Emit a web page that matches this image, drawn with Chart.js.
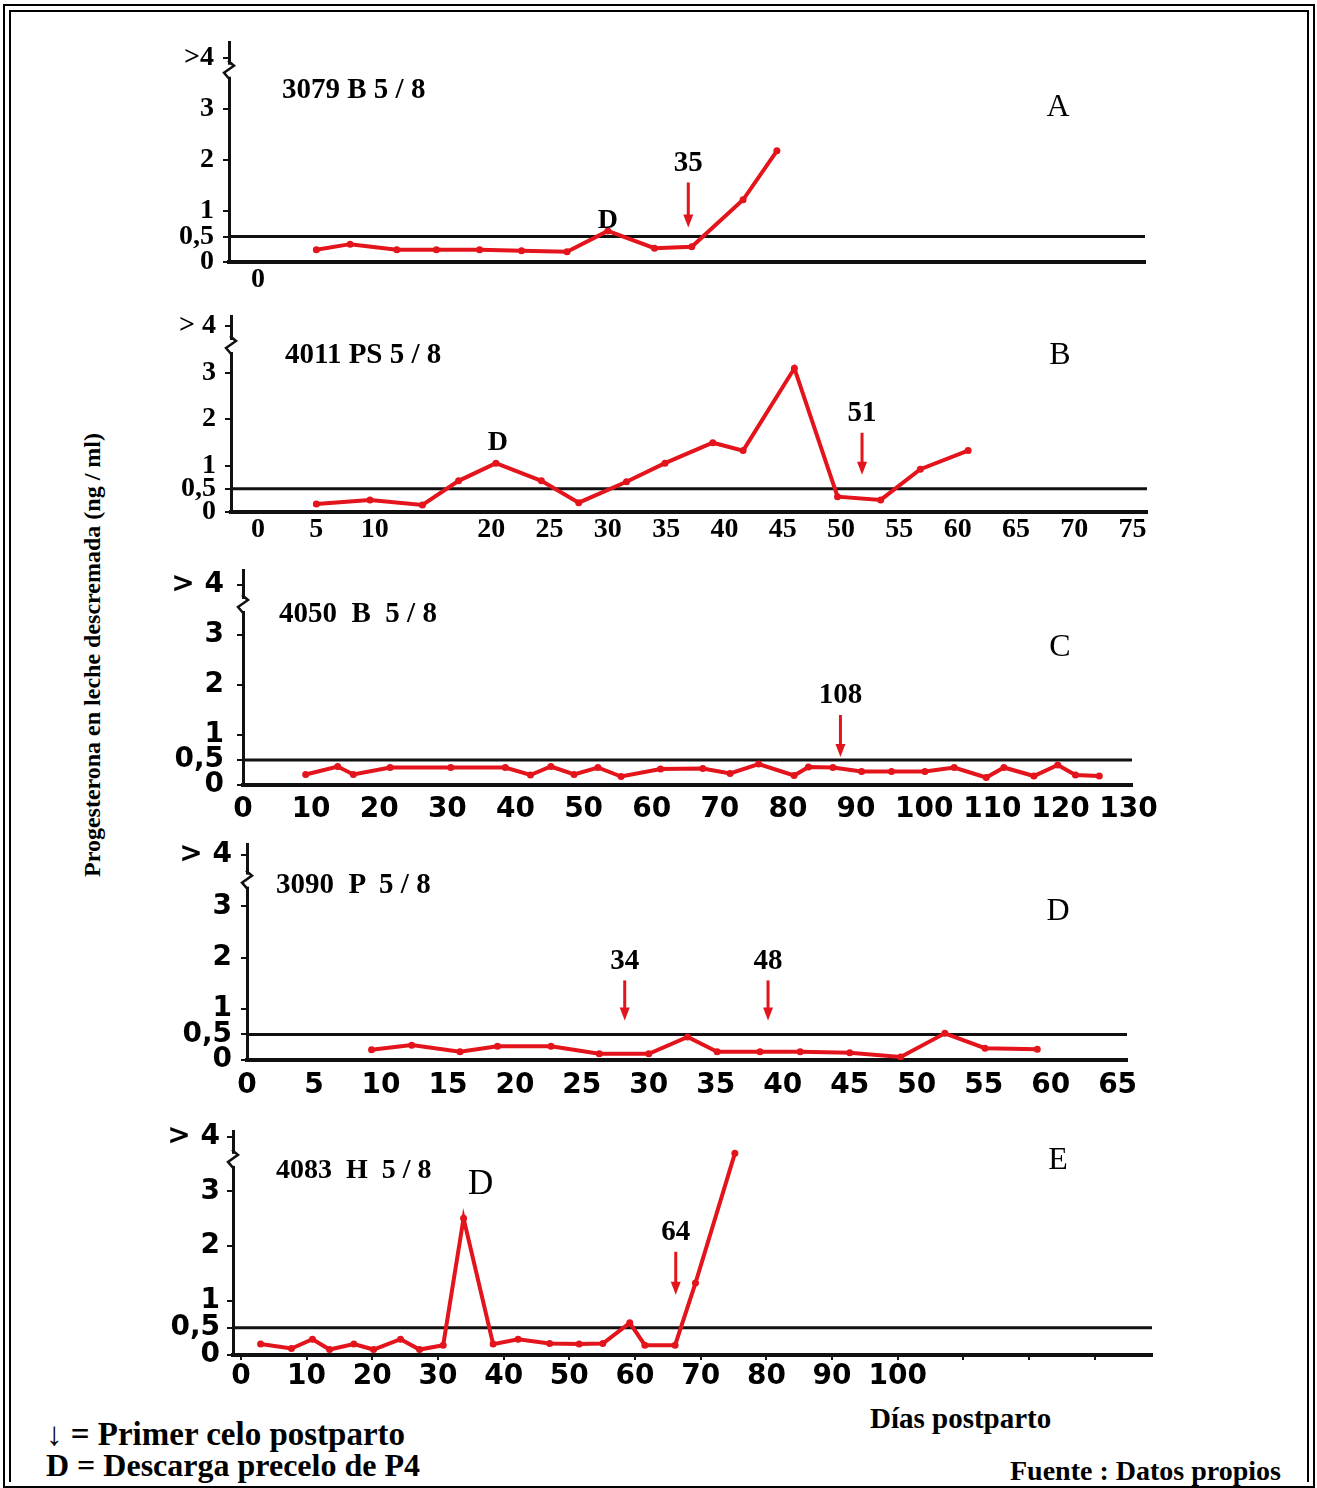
<!DOCTYPE html>
<html>
<head>
<meta charset="utf-8">
<script src="https://cdn.jsdelivr.net/npm/chart.js@4.4.1/dist/chart.umd.min.js"></script>
<style>
  body { margin: 0; background: #fff; }
  #page { position: relative; width: 1317px; height: 1488px; overflow: hidden; background: #fff; }
  .frame-out { position: absolute; left: 3px; top: 4px; width: 1308px; height: 1480px; border: 2px solid #000; }
  .frame-in { position: absolute; left: 9px; top: 10px; width: 1296px; height: 1470px; border: 2px solid #000; border-bottom: none; }
  canvas { position: absolute; left: 120px; }
  .t { position: absolute; white-space: pre; line-height: 1; color: #000;
       font-family: "Liberation Serif", "Times New Roman", serif; font-weight: bold;
       transform: translateY(-50%); }
  .letter { font-weight: normal; font-size: 32px; transform: translate(-50%, -50%); }
  .ytitle { position: absolute; left: 92px; top: 655px; white-space: pre; line-height: 1;
            font-family: "Liberation Serif", serif; font-weight: bold; font-size: 24px;
            transform: translate(-50%, -50%) rotate(-90deg); }
</style>
</head>
<body>
<div id="page">
  <div class="frame-out"></div>
  <div class="frame-in"></div>

  <canvas id="chartA" width="1060" height="272" style="top:30px"></canvas>
  <canvas id="chartB" width="1060" height="252" style="top:300px"></canvas>
  <canvas id="chartC" width="1060" height="270" style="top:555px"></canvas>
  <canvas id="chartD" width="1060" height="270" style="top:830px"></canvas>
  <canvas id="chartE" width="1060" height="280" style="top:1115px"></canvas>

  <div class="t" style="left:282px;top:88px;font-size:29px">3079 B 5 / 8</div>
  <div class="t" style="left:285px;top:353px;font-size:29px">4011 PS 5 / 8</div>
  <div class="t" style="left:279px;top:612px;font-size:29px">4050  B  5 / 8</div>
  <div class="t" style="left:276px;top:883px;font-size:29px">3090  P  5 / 8</div>
  <div class="t" style="left:276px;top:1169px;font-size:28px">4083  H  5 / 8</div>

  <div class="t letter" style="left:1058px;top:105px">A</div>
  <div class="t letter" style="left:1060px;top:353px">B</div>
  <div class="t letter" style="left:1060px;top:645px">C</div>
  <div class="t letter" style="left:1058px;top:909px">D</div>
  <div class="t letter" style="left:1058px;top:1158px">E</div>

  <div class="ytitle">Progesterona en leche descremada (ng / ml)</div>

  <div class="t" style="left:46px;top:1434px;font-size:33px">↓ = Primer celo postparto</div>
  <div class="t" style="left:46px;top:1465px;font-size:32px">D = Descarga precelo de P4</div>
  <div class="t" style="left:870px;top:1418px;font-size:29px">Días postparto</div>
  <div class="t" style="left:1010px;top:1471px;font-size:28px">Fuente : Datos propios</div>
</div>

<script>
// progesterone (ng/ml) by postpartum day
const daysA = [5.0, 7.9, 11.9, 15.3, 19.0, 22.6, 26.5, 30.0, 34.0, 37.2, 41.6, 44.5];
const valsA = [0.24, 0.35, 0.24, 0.24, 0.24, 0.22, 0.20, 0.61, 0.27, 0.30, 1.22, 2.18];

const daysB = [5.0, 9.6, 14.1, 17.2, 20.4, 24.3, 27.5, 31.6, 34.9, 39.0, 41.6, 46.0, 49.7, 53.4, 56.8, 60.9];
const valsB = [0.17, 0.26, 0.15, 0.67, 1.05, 0.67, 0.20, 0.65, 1.05, 1.49, 1.32, 3.09, 0.33, 0.26, 0.92, 1.32];

const daysC = [9.2, 13.9, 16.2, 21.6, 30.5, 38.5, 42.2, 45.2, 48.6, 52.1, 55.5, 61.3, 67.5, 71.5,
               75.7, 80.9, 83.0, 86.6, 90.8, 95.2, 100.1, 104.4, 109.1, 111.7, 116.1, 119.6, 122.2, 125.7];
const valsC = [0.21, 0.37, 0.21, 0.35, 0.35, 0.35, 0.20, 0.37, 0.21, 0.35, 0.17, 0.32, 0.33, 0.23,
               0.42, 0.19, 0.36, 0.35, 0.27, 0.27, 0.27, 0.35, 0.15, 0.35, 0.18, 0.40, 0.20, 0.18];

const daysD = [9.3, 12.3, 15.9, 18.7, 22.7, 26.3, 30.0, 32.9, 35.1, 38.3, 41.3, 45.0, 48.8, 52.1, 55.1, 59.0];
const valsD = [0.20, 0.29, 0.16, 0.27, 0.27, 0.12, 0.12, 0.45, 0.16, 0.16, 0.16, 0.14, 0.06, 0.52, 0.23, 0.21];

const daysE = [3.0, 7.7, 10.9, 13.5, 17.2, 20.2, 24.3, 27.2, 30.8, 33.9, 38.4, 42.2, 47.0, 51.5, 55.1, 59.2, 61.5, 66.1, 69.2, 75.2];
const valsE = [0.20, 0.12, 0.29, 0.10, 0.20, 0.10, 0.29, 0.10, 0.18, 2.51, 0.20, 0.29, 0.21, 0.20, 0.21, 0.59, 0.18, 0.18, 1.32, 3.70];

// first postpartum heat (arrows) and pre-heat discharge (D)
const arrowDaysA = [36.9], arrowLabelsA = ['35'];
const arrowDaysB = [51.8], arrowLabelsB = ['51'];
const arrowDaysC = [87.7], arrowLabelsC = ['108'];
const arrowDaysD = [28.2, 38.9], arrowLabelsD = ['34', '48'];
const arrowDaysE = [66.2], arrowLabelsE = ['64'];
const dDayA = 30.0, dDayB = 20.4, dDayE = 33.9;

// axis ticks
const xTicksA = [0];
const xTicksB = [0, 5, 10, 20, 25, 30, 35, 40, 45, 50, 55, 60, 65, 70, 75];
const xTicksC = [0, 10, 20, 30, 40, 50, 60, 70, 80, 90, 100, 110, 120, 130];
const xTicksD = [0, 5, 10, 15, 20, 25, 30, 35, 40, 45, 50, 55, 60, 65];
const xTicksE = [0, 10, 20, 30, 40, 50, 60, 70, 80, 90, 100, 110, 120, 130];
const yTicks = [0, 0.5, 1, 2, 3, 4];
const yLabelsSerif = ['0', '0,5', '1', '2', '3', '>4'];
const yLabelsSans = ['0', '0,5', '1', '2', '3', '> 4'];
const THRESHOLD = 0.5;

const RED = '#e3141b';
const SERIF = '"Liberation Serif", "Times New Roman", serif';
const SANS = '"DejaVu Sans", sans-serif';

const notesPlugin = {
  id: 'notes',
  afterDatasetsDraw(chart, args, o) {
    const ctx = chart.ctx, area = chart.chartArea, xs = chart.scales.x, ys = chart.scales.y;
    ctx.save();
    // break mark on the y axis
    const bx = area.left, by = ys.getPixelForValue(o.breakAt);
    ctx.fillStyle = '#fff';
    ctx.fillRect(bx - 3, by - 6, 6, 12);
    ctx.strokeStyle = '#111';
    ctx.lineWidth = 2.5;
    ctx.beginPath();
    ctx.moveTo(bx - 1, by - 10);
    ctx.lineTo(bx + 5, by - 5);
    ctx.lineTo(bx - 5, by + 2);
    ctx.lineTo(bx + 1, by + 9);
    ctx.stroke();

    // arrows
    const y05 = ys.getPixelForValue(THRESHOLD);
    o.arrowDays.forEach((d, i) => {
      const ax = xs.getPixelForValue(d), tip = y05 - o.gap, tail = tip - o.len;
      ctx.strokeStyle = RED; ctx.fillStyle = RED; ctx.lineWidth = 3;
      ctx.beginPath(); ctx.moveTo(ax, tail); ctx.lineTo(ax, tip - 10); ctx.stroke();
      ctx.beginPath(); ctx.moveTo(ax - 5, tip - 13); ctx.lineTo(ax + 5, tip - 13); ctx.lineTo(ax, tip); ctx.closePath(); ctx.fill();
      ctx.fillStyle = '#000';
      ctx.font = 'bold 29px ' + SERIF;
      ctx.textAlign = 'center'; ctx.textBaseline = 'middle';
      ctx.fillText(o.arrowLabels[i], ax, tail - 19);
    });

    // D mark above the discharge peak
    if (o.dDay != null) {
      const ds = chart.data.datasets[0].data;
      const p = ds.find(pt => pt.x === o.dDay);
      ctx.fillStyle = '#000';
      ctx.font = o.dFont;
      ctx.textAlign = 'center'; ctx.textBaseline = 'middle';
      ctx.fillText('D', xs.getPixelForValue(p.x) + o.dx, ys.getPixelForValue(p.y) + o.dy);
    }
    ctx.restore();
  }
};

function panel(id, p) {
  return new Chart(document.getElementById(id), {
    type: 'line',
    data: {
      datasets: [{
        data: p.days.map((d, i) => ({ x: d, y: p.vals[i] })),
        borderColor: RED, backgroundColor: RED, borderWidth: 4,
        pointRadius: 3.5, pointBorderWidth: 0, tension: 0, order: 0
      }, {
        data: [{ x: p.xMin, y: THRESHOLD }, { x: p.xMax, y: THRESHOLD }],
        borderColor: '#111', borderWidth: 3, pointRadius: 0, order: 1
      }]
    },
    options: {
      responsive: false, animation: false, events: [],
      layout: { padding: p.pad },
      plugins: { legend: { display: false }, tooltip: { enabled: false }, notes: p.notes },
      scales: {
        x: {
          type: 'linear', min: p.xMin, max: p.xMax,
          border: { color: '#111', width: 4 },
          grid: { display: !!p.xTickMarks, drawOnChartArea: false, drawTicks: !!p.xTickMarks, tickLength: 5, color: '#111', lineWidth: 2 },
          afterBuildTicks: s => { s.ticks = p.xTicks.map(v => ({ value: v })); },
          afterFit: s => { s.height = 40; s.paddingLeft = 0; s.paddingRight = 0; },
          ticks: { autoSkip: false, maxRotation: 0, minRotation: 0, padding: p.xPad, color: '#000', font: p.tickFont,
                   callback: v => (p.xMaxLabel != null && v > p.xMaxLabel) ? '' : String(v) }
        },
        y: {
          type: 'linear', min: 0, max: p.yMax,
          border: { color: '#111', width: 3 },
          grid: { drawOnChartArea: false, drawTicks: true, tickLength: 6, color: '#111', lineWidth: 2 },
          afterBuildTicks: s => { s.ticks = yTicks.map(v => ({ value: v })); },
          afterFit: s => { s.width = 90; s.paddingTop = 0; s.paddingBottom = 0; },
          ticks: { padding: p.yPad, color: '#000', font: p.tickFont,
                   callback: v => p.yLabels[yTicks.indexOf(v)] }
        }
      }
    },
    plugins: [notesPlugin]
  });
}

const serifTicks = { family: SERIF, size: 28, weight: 'bold' };
const sansTicks = { family: SANS, size: 28, weight: 'bold' };

panel('chartA', {
  days: daysA, vals: valsA, xMin: -2.49, xMax: 76.07, yMax: 4.3, xTicks: xTicksA,
  yLabels: yLabelsSerif, tickFont: serifTicks, xPad: 1, yPad: 9,
  pad: { left: 19, right: 35, top: 12.7, bottom: 0 },
  notes: { breakAt: 3.75, arrowDays: arrowDaysA, arrowLabels: arrowLabelsA, gap: 9, len: 45,
           dDay: dDayA, dx: 0, dy: -10, dFont: 'bold 28px ' + SERIF }
});

panel('chartB', {
  days: daysB, vals: valsB, xMin: -2.32, xMax: 76.24, yMax: 4.2, xTicks: xTicksB,
  yLabels: ['0', '0,5', '1', '2', '3', '> 4'], tickFont: serifTicks, xPad: 1, yPad: 9,
  pad: { left: 21, right: 33, top: 16.7, bottom: 0 },
  notes: { breakAt: 3.57, arrowDays: arrowDaysB, arrowLabels: arrowLabelsB, gap: 14, len: 42,
           dDay: dDayB, dx: 2, dy: -20, dFont: 'bold 28px ' + SERIF }
});

panel('chartC', {
  days: daysC, vals: valsC, xMin: 0, xMax: 130.5, yMax: 4.3, xTicks: xTicksC,
  yLabels: yLabelsSans, tickFont: sansTicks, xPad: 8, yPad: 13,
  pad: { left: 33, right: 48, top: 15, bottom: 0 },
  notes: { breakAt: 3.6, arrowDays: arrowDaysC, arrowLabels: arrowLabelsC, gap: 3, len: 42 }
});

panel('chartD', {
  days: daysD, vals: valsD, xMin: 0, xMax: 65.7, yMax: 4.2, xTicks: xTicksD,
  yLabels: yLabelsSans, tickFont: sansTicks, xPad: 9, yPad: 9,
  pad: { left: 37, right: 53, top: 14.75, bottom: 0 },
  notes: { breakAt: 3.5, arrowDays: arrowDaysD, arrowLabels: arrowLabelsD, gap: 14, len: 40 }
});

panel('chartE', {
  days: daysE, vals: valsE, xMin: -1.2, xMax: 138.7, yMax: 4.1, xTicks: xTicksE, xMaxLabel: 100,
  xTickMarks: true, yLabels: yLabelsSans, tickFont: sansTicks, xPad: 0, yPad: 7,
  pad: { left: 23, right: 28, top: 16.55, bottom: 0 },
  notes: { breakAt: 3.58, arrowDays: arrowDaysE, arrowLabels: arrowLabelsE, gap: 33, len: 43,
           dDay: dDayE, dx: 17, dy: -33, dFont: '35px ' + SERIF }
});
</script>
</body>
</html>
